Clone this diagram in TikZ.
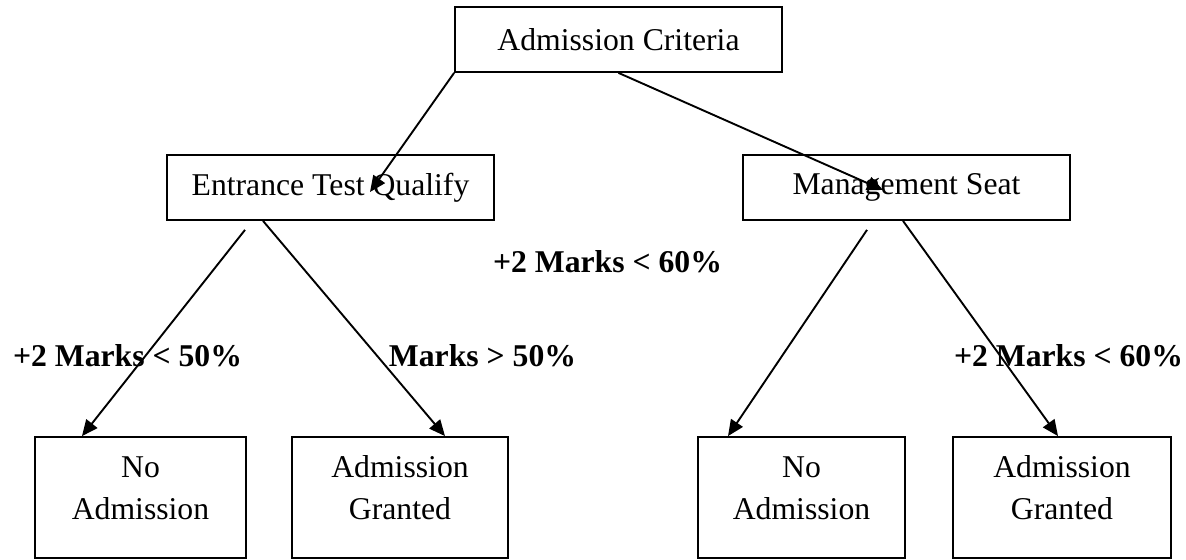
\documentclass[tikz,border=0pt]{standalone}
\usepackage{fontspec}
\setmainfont{Liberation Serif}
\usetikzlibrary{arrows.meta,calc}
\tikzset{
  box/.style={draw, line width=0.9pt, minimum width=163.5pt, minimum height=32.5pt, inner sep=0pt},
  leaf/.style={draw, line width=0.9pt, align=center, inner sep=0pt, text height=20pt, text depth=40.5pt},
  cond/.style={anchor=base, font=\fontsize{15.85}{21}\selectfont\bfseries},
  arr/.style={line width=0.95pt, -{Triangle[length=8pt,width=7pt]}}
}
\begin{document}
\begin{tikzpicture}[x=0.5pt, y=-0.5pt, every node/.style={font=\fontsize{15.85}{21}\selectfont}]
\useasboundingbox (0,0) rectangle (1186,560);

\node[box] (crit) at (618.5,39.5) {Admission Criteria};
\node[box] (etq) at (330.5,187.5) {Entrance Test Qualify};
\node[box] (mgmt) at (906.5,187.5) {Management Seat};

\node[leaf, text width=105.5pt] (no1) at (140.5,497.5) {No\\Admission};
\node[leaf, text width=108pt] (yes1) at (400,497.5) {Admission\\Granted};
\node[leaf, text width=103.5pt] (no2) at (801.5,497.5) {No\\Admission};
\node[leaf, text width=109pt] (yes2) at (1062,497.5) {Admission\\Granted};

\node[cond] (c1) at (127.5,367) {+2 Marks < 50\%};
\node[cond] (c2) at (482.5,367) {Marks > 50\%};
\node[cond] (c3) at (607.5,273) {+2 Marks < 60\%};
\node[cond] (c4) at (1068.5,367) {+2 Marks < 60\%};

\draw[arr] (crit.south west) -- ($(etq.center)+(39.5,4.5)$);
\draw[arr] (crit.south) -- ($(mgmt.center)+(-23.5,2.5)$);
\draw[arr] ($(etq.south)+(-85.5,9)$) -- ($(no1.north)+(-58.5,0)$);
\draw[arr] ($(etq.south)+(-67.5,0)$) -- ($(yes1.north)+(45,0)$);
\draw[arr] ($(mgmt.south)+(-39.5,9)$) -- ($(no2.north)+(-73.5,0)$);
\draw[arr] ($(mgmt.south)+(-3.5,0)$) -- ($(yes2.north)+(-4,0)$);
\end{tikzpicture}
\end{document}
